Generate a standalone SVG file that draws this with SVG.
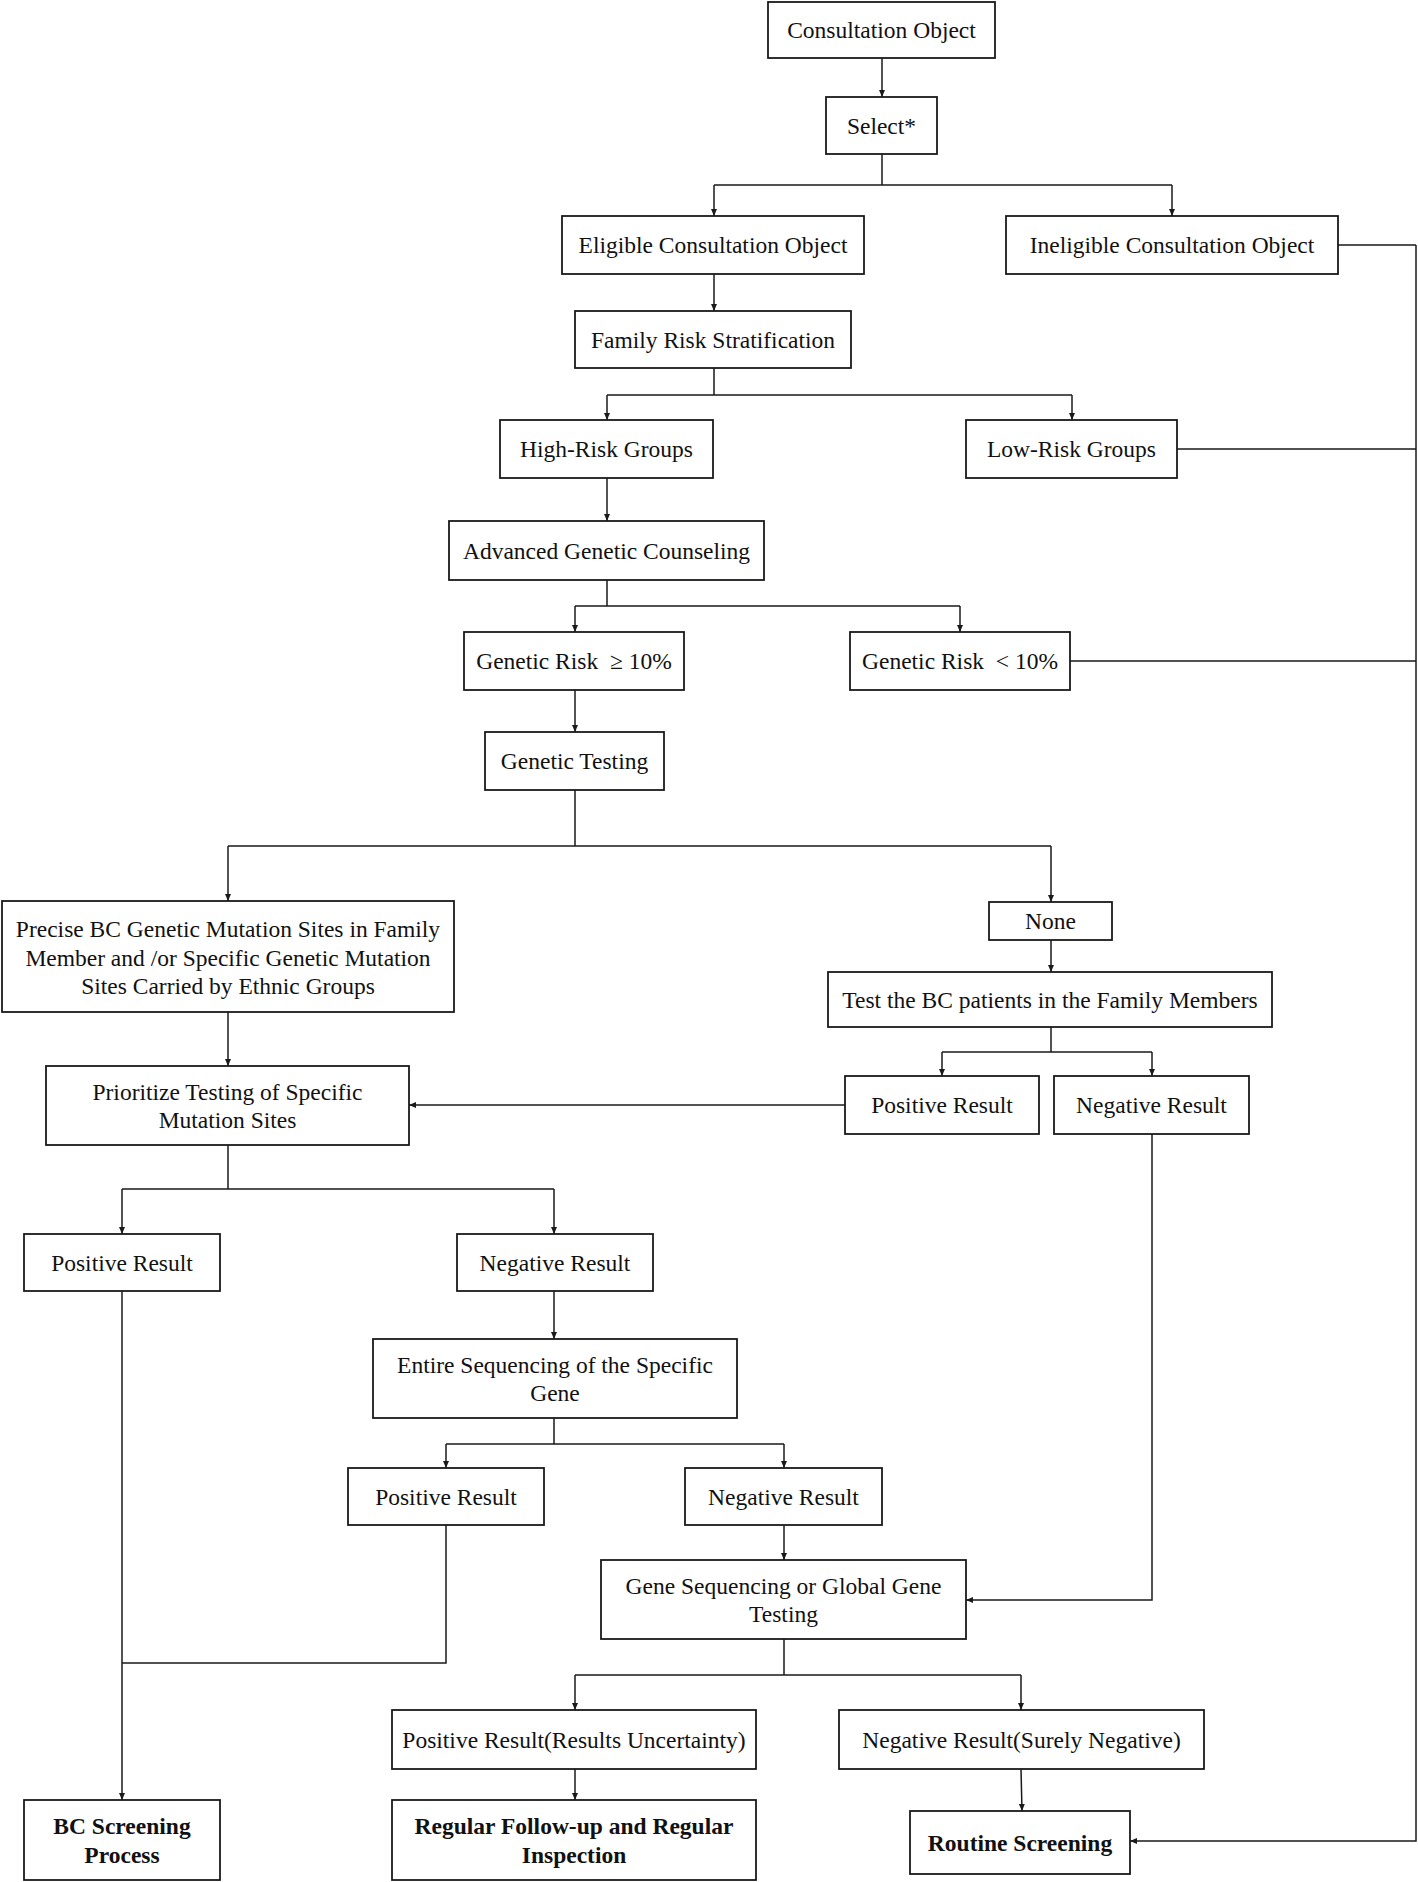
<svg xmlns="http://www.w3.org/2000/svg" width="1418" height="1882" viewBox="0 0 1418 1882">
<defs>
<marker id="ah" markerUnits="userSpaceOnUse" markerWidth="8" markerHeight="8" refX="7" refY="4" orient="auto">
<path d="M0,1 L7,4 L0,7 Z" fill="#1a1a1a"/>
</marker>
<style>
.box{fill:#fff;stroke:#1a1a1a;stroke-width:1.8}
.t{font-family:"Liberation Serif","Times New Roman",serif;font-size:23.5px;fill:#111;text-anchor:middle;white-space:pre}
.b{font-weight:bold}
.c{fill:none;stroke:#1a1a1a;stroke-width:1.5}
</style>
</defs>
<rect width="1418" height="1882" fill="#fff"/>
<g id="connectors">
<path class="c" d="M882,58 V97" marker-end="url(#ah)"/>
<path class="c" d="M882,154 V185 M714,185 H1172"/>
<path class="c" d="M714,185 V216" marker-end="url(#ah)"/>
<path class="c" d="M1172,185 V216" marker-end="url(#ah)"/>
<path class="c" d="M714,274 V311" marker-end="url(#ah)"/>
<path class="c" d="M714,368 V395 M607,395 H1072"/>
<path class="c" d="M607,395 V420" marker-end="url(#ah)"/>
<path class="c" d="M1072,395 V420" marker-end="url(#ah)"/>
<path class="c" d="M607,478 V521" marker-end="url(#ah)"/>
<path class="c" d="M607,580 V606 M575,606 H960"/>
<path class="c" d="M575,606 V632" marker-end="url(#ah)"/>
<path class="c" d="M960,606 V632" marker-end="url(#ah)"/>
<path class="c" d="M575,690 V732" marker-end="url(#ah)"/>
<path class="c" d="M575,790 V846 M228,846 H1051"/>
<path class="c" d="M228,846 V901" marker-end="url(#ah)"/>
<path class="c" d="M1051,846 V902" marker-end="url(#ah)"/>
<path class="c" d="M1051,940 V972" marker-end="url(#ah)"/>
<path class="c" d="M1051,1027 V1052 M942,1052 H1152"/>
<path class="c" d="M942,1052 V1076" marker-end="url(#ah)"/>
<path class="c" d="M1152,1052 V1076" marker-end="url(#ah)"/>
<path class="c" d="M845,1105 H409" marker-end="url(#ah)"/>
<path class="c" d="M228,1012 V1066" marker-end="url(#ah)"/>
<path class="c" d="M228,1145 V1189 M122,1189 H554"/>
<path class="c" d="M122,1189 V1234" marker-end="url(#ah)"/>
<path class="c" d="M554,1189 V1234" marker-end="url(#ah)"/>
<path class="c" d="M554,1291 V1339" marker-end="url(#ah)"/>
<path class="c" d="M554,1418 V1444 M446,1444 H784"/>
<path class="c" d="M446,1444 V1468" marker-end="url(#ah)"/>
<path class="c" d="M784,1444 V1468" marker-end="url(#ah)"/>
<path class="c" d="M784,1525 V1560" marker-end="url(#ah)"/>
<path class="c" d="M1152,1134 V1600 H966" marker-end="url(#ah)"/>
<path class="c" d="M446,1525 V1663 H122"/>
<path class="c" d="M122,1291 V1800" marker-end="url(#ah)"/>
<path class="c" d="M784,1639 V1675 M575,1675 H1021"/>
<path class="c" d="M575,1675 V1710" marker-end="url(#ah)"/>
<path class="c" d="M1021,1675 V1710" marker-end="url(#ah)"/>
<path class="c" d="M575,1769 V1800" marker-end="url(#ah)"/>
<path class="c" d="M1021,1769 L1022,1811" marker-end="url(#ah)"/>
<path class="c" d="M1338,245 H1416 M1177,449 H1416 M1070,661 H1416"/>
<path class="c" d="M1416,245 V1841 H1130" marker-end="url(#ah)"/>
</g>
<g id="n1"><rect class="box" x="768" y="2" width="227" height="56"/><text class="t" x="881.5" y="38">Consultation Object</text></g>
<g id="n2"><rect class="box" x="826" y="97" width="111" height="57"/><text class="t" x="881.5" y="133.5">Select*</text></g>
<g id="n3"><rect class="box" x="562" y="216" width="302" height="58"/><text class="t" x="713" y="253">Eligible Consultation Object</text></g>
<g id="n4"><rect class="box" x="1006" y="216" width="332" height="58"/><text class="t" x="1172" y="253">Ineligible Consultation Object</text></g>
<g id="n5"><rect class="box" x="575" y="311" width="276" height="57"/><text class="t" x="713" y="347.5">Family Risk Stratification</text></g>
<g id="n6"><rect class="box" x="500" y="420" width="213" height="58"/><text class="t" x="606.5" y="457">High-Risk Groups</text></g>
<g id="n7"><rect class="box" x="966" y="420" width="211" height="58"/><text class="t" x="1071.5" y="457">Low-Risk Groups</text></g>
<g id="n8"><rect class="box" x="449" y="521" width="315" height="59"/><text class="t" x="606.5" y="558.5">Advanced Genetic Counseling</text></g>
<g id="n9"><rect class="box" x="464" y="632" width="220" height="58"/><text class="t" x="574" y="669">Genetic Risk  ≥ 10%</text></g>
<g id="n10"><rect class="box" x="850" y="632" width="220" height="58"/><text class="t" x="960" y="669">Genetic Risk  &lt; 10%</text></g>
<g id="n11"><rect class="box" x="485" y="732" width="179" height="58"/><text class="t" x="574.5" y="769">Genetic Testing</text></g>
<g id="n12"><rect class="box" x="2" y="901" width="452" height="111"/><text class="t" x="228"><tspan x="228" y="937">Precise BC Genetic Mutation Sites in Family</tspan><tspan x="228" y="965.5">Member and /or Specific Genetic Mutation</tspan><tspan x="228" y="994">Sites Carried by Ethnic Groups</tspan></text></g>
<g id="n13"><rect class="box" x="989" y="902" width="123" height="38"/><text class="t" x="1050.5" y="929">None</text></g>
<g id="n14"><rect class="box" x="828" y="972" width="444" height="55"/><text class="t" x="1050" y="1007.5">Test the BC patients in the Family Members</text></g>
<g id="n15"><rect class="box" x="845" y="1076" width="194" height="58"/><text class="t" x="942" y="1113">Positive Result</text></g>
<g id="n16"><rect class="box" x="1054" y="1076" width="195" height="58"/><text class="t" x="1151.5" y="1113">Negative Result</text></g>
<g id="n17"><rect class="box" x="46" y="1066" width="363" height="79"/><text class="t"><tspan x="227.5" y="1099.5">Prioritize Testing of Specific</tspan><tspan x="227.5" y="1128">Mutation Sites</tspan></text></g>
<g id="n18"><rect class="box" x="24" y="1234" width="196" height="57"/><text class="t" x="122" y="1270.5">Positive Result</text></g>
<g id="n19"><rect class="box" x="457" y="1234" width="196" height="57"/><text class="t" x="555" y="1270.5">Negative Result</text></g>
<g id="n20"><rect class="box" x="373" y="1339" width="364" height="79"/><text class="t"><tspan x="555" y="1372.5">Entire Sequencing of the Specific</tspan><tspan x="555" y="1401">Gene</tspan></text></g>
<g id="n21"><rect class="box" x="348" y="1468" width="196" height="57"/><text class="t" x="446" y="1504.5">Positive Result</text></g>
<g id="n22"><rect class="box" x="685" y="1468" width="197" height="57"/><text class="t" x="783.5" y="1504.5">Negative Result</text></g>
<g id="n23"><rect class="box" x="601" y="1560" width="365" height="79"/><text class="t"><tspan x="783.5" y="1593.5">Gene Sequencing or Global Gene</tspan><tspan x="783.5" y="1622">Testing</tspan></text></g>
<g id="n24"><rect class="box" x="392" y="1710" width="364" height="59"/><text class="t" x="574" y="1747.5">Positive Result(Results Uncertainty)</text></g>
<g id="n25"><rect class="box" x="839" y="1710" width="365" height="59"/><text class="t" x="1021.5" y="1747.5">Negative Result(Surely Negative)</text></g>
<g id="n26"><rect class="box" x="24" y="1800" width="196" height="80"/><text class="t b"><tspan x="122" y="1834">BC Screening</tspan><tspan x="122" y="1862.5">Process</tspan></text></g>
<g id="n27"><rect class="box" x="392" y="1800" width="364" height="80"/><text class="t b"><tspan x="574" y="1834">Regular Follow-up and Regular</tspan><tspan x="574" y="1862.5">Inspection</tspan></text></g>
<g id="n28"><rect class="box" x="910" y="1811" width="220" height="63"/><text class="t b" x="1020" y="1850.5">Routine Screening</text></g>
</svg>
